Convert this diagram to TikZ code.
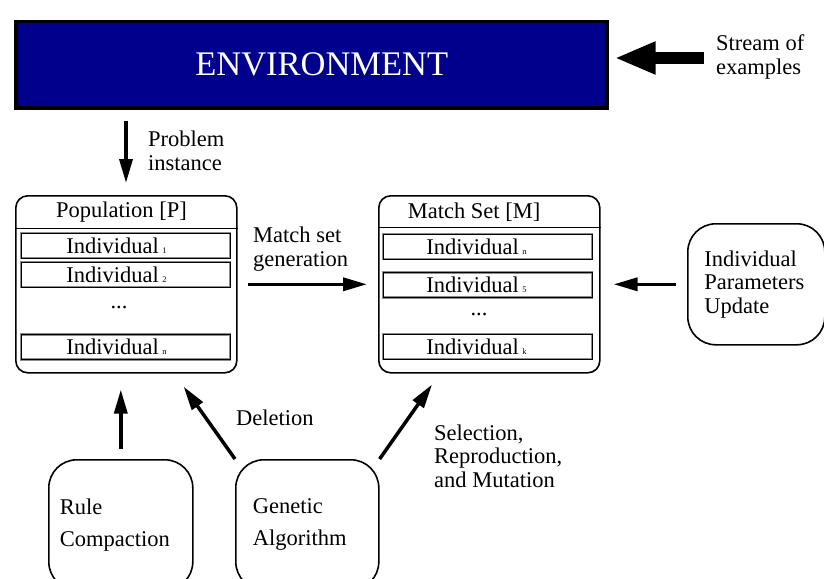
\documentclass[tikz,border=0pt]{standalone}
\usepackage{fontspec}
\setmainfont{Liberation Serif}
\usetikzlibrary{arrows.meta}
\definecolor{envblue}{RGB}{0,0,140}
\newcommand\rowidx[1]{\,{\fontsize{8.5}{8.5}\selectfont #1}}

\begin{document}
\begin{tikzpicture}[x=1pt,y=-1pt,
  lbl/.style={font=\fontsize{22.5}{23.5}\selectfont, align=left, inner sep=0pt},
  flow/.style={line width=3.5pt, -{Triangle[length=24pt,width=13pt]}},
  bigflow/.style={line width=12pt, -{Triangle[length=41pt,width=30pt]}},
  panel/.style={draw, line width=1.6pt, rounded corners=12pt, anchor=north west, inner sep=0pt},
  rowbox/.style={draw=black!45, line width=2.4pt, minimum width=209pt, minimum height=25pt,
    inner sep=0pt, font=\fontsize{22.5}{23.5}\selectfont,
    postaction={draw=black, line width=0.7pt}},
  proc/.style={draw, line width=1.6pt, rounded corners=28pt, anchor=north west,
    font=\fontsize{22.5}{32}\selectfont, align=left, inner sep=0pt}]
\useasboundingbox (0,0) rectangle (824,578);
\clip (0,0) rectangle (824,578);

% environment block and the incoming stream
\node[draw, line width=3.5pt, fill=envblue, text=white, anchor=north west,
  minimum width=591pt, minimum height=86pt, inner sep=0pt,
  font=\fontsize{34.5}{34.5}\selectfont] (env) at (14,20) {\hspace*{21pt}ENVIRONMENT};
\node[lbl, anchor=west] (streamlbl) at (716,57) {Stream of\\examples};
\draw[bigflow] ([xshift=-12pt,yshift=-1pt]streamlbl.west) -- ([xshift=6pt,yshift=-1pt]streamlbl.west -| env.east);

% population
\node[panel, minimum width=221pt, minimum height=177pt] (pop) at (15,195) {};
\node[lbl] (poph) at (121.5,212) {Population [P]};
\draw[line width=1pt] (pop.west |- poph.south) ++(0,-6pt) coordinate (popsepL)
  -- (popsepL -| pop.east);
\node[rowbox] (p1) at (125.5,245.5) {Individual\rowidx{1}\hspace*{18pt}};
\node[rowbox] (p2) at (125.5,274.5) {Individual\rowidx{2}\hspace*{18pt}};
\node[lbl] (pdots) at (119,307) {...};
\node[rowbox] (pn) at (125.5,347) {Individual\rowidx{n}\hspace*{18pt}};

% match set
\node[panel, minimum width=221pt, minimum height=177pt] (match) at (378,195) {};
\node[lbl] (mh) at (474,212) {Match Set [M]};
\draw[line width=1pt] (match.west |- mh.south) ++(0,-6pt) coordinate (msepL)
  -- (msepL -| match.east);
\node[rowbox] (m1) at (487.5,246.5) {Individual\rowidx{n}\hspace*{22pt}};
\node[rowbox] (m2) at (487.5,285) {Individual\rowidx{5}\hspace*{22pt}};
\node[lbl] (mdots) at (479,314) {...};
\node[rowbox] (mk) at (487.5,346.5) {Individual\rowidx{k}\hspace*{22pt}};

% process boxes
\node[proc, minimum width=137pt, minimum height=121pt, text width=104pt,
  font=\fontsize{22.5}{23.5}\selectfont] (upd) at (687,223) {Individual\\Parameters\\Update};
\node[proc, minimum width=144pt, minimum height=130pt, text width=122pt] (rule) at (48,459)
  {Rule\\Compaction};
\node[proc, minimum width=143pt, minimum height=130pt, text width=109pt] (ga) at (235,459)
  {Genetic\\Algorithm};

% connectors
\draw[flow] ([xshift=112pt,yshift=-11pt]env.south west) -- ([xshift=111pt,yshift=12pt]pop.north west);
\node[lbl, anchor=west] (pilbl) at (148,151) {Problem\\instance};

\draw[flow] ([xshift=10pt]pop.east) -- ([xshift=-11pt]match.east -| match.west);
\node[lbl, anchor=west] (msglbl) at (253,249) {Match set\\generation};

\draw[flow] ([xshift=-11pt]upd.west) -- ([xshift=13pt]match.east);

\draw[flow] ([yshift=10pt]rule.north) -- ([yshift=-16pt]rule.north |- pop.south);
\draw[flow] (ga.north west) -- ([xshift=-54pt,yshift=-13pt]pop.south east);
\node[lbl, anchor=west] (dellbl) at (236,418) {Deletion};
\draw[flow] (ga.north east) -- ([xshift=54pt,yshift=-11pt]match.south west);
\node[lbl, anchor=west] (sellbl) at (434,456) {Selection,\\Reproduction,\\and Mutation};
\end{tikzpicture}
\end{document}
